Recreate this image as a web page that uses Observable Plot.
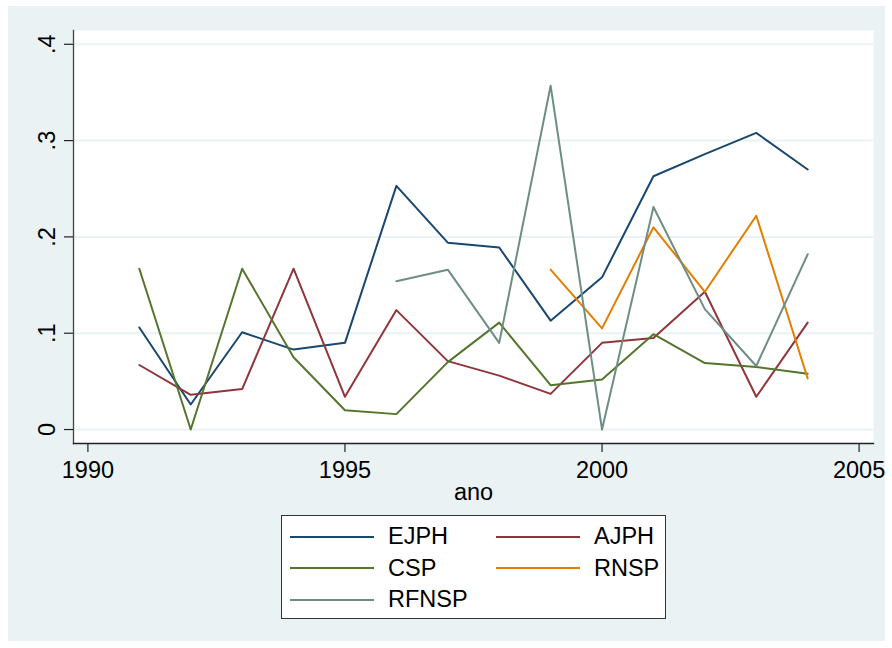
<!DOCTYPE html>
<html>
<head>
<meta charset="utf-8">
<script src="https://cdn.jsdelivr.net/npm/d3@7"></script>
<script src="https://cdn.jsdelivr.net/npm/@observablehq/plot@0.6"></script>
<style>
  body { margin: 0; background: #ffffff; font-family: "Liberation Sans", Arial, Helvetica, sans-serif; }
  #panel { position: absolute; left: 8px; top: 6px; width: 877px; height: 635px; background: #eaf2f3; }
  #chart { position: absolute; left: 0; top: 0; }
  #legend { position: absolute; left: 281px; top: 515px; width: 385px; height: 104px; background: #fff;
            border: 1px solid #333; box-sizing: border-box; padding: 5px 0 0 8px;
            display: grid; grid-template-columns: 206px 170px; grid-auto-rows: 31.5px; }
  .item { display: flex; align-items: center; font-size: 23.5px; color: #000; }
  .swatch { width: 84px; height: 2px; margin-right: 14px; }
</style>
</head>
<body>
<div id="panel"></div>
<div id="chart"></div>
<div id="legend"></div>
<script>
const years = [1991, 1992, 1993, 1994, 1995, 1996, 1997, 1998, 1999, 2000, 2001, 2002, 2003, 2004];
const EJPH  = [0.106, 0.026, 0.101, 0.083, 0.090, 0.253, 0.194, 0.189, 0.113, 0.158, 0.263, 0.286, 0.308, 0.270];
const AJPH  = [0.067, 0.036, 0.042, 0.167, 0.034, 0.124, 0.071, 0.056, 0.037, 0.090, 0.095, 0.143, 0.034, 0.111];
const CSP   = [0.167, 0.000, 0.167, 0.075, 0.020, 0.016, 0.070, 0.111, 0.046, 0.052, 0.099, 0.069, 0.065, 0.058];
const RNSP  = [null, null, null, null, null, null, null, null, 0.166, 0.105, 0.210, 0.143, 0.222, 0.053];
const RFNSP = [null, null, null, null, null, 0.154, 0.166, 0.090, 0.357, 0.000, 0.231, 0.125, 0.066, 0.182];

const seriesNames = ["EJPH", "AJPH", "CSP", "RNSP", "RFNSP"];
const seriesColors = ["#1a476f", "#90353b", "#55752f", "#e37e00", "#6e8e84"];
const seriesValues = [EJPH, AJPH, CSP, RNSP, RFNSP];

const yTicks = [0, 0.1, 0.2, 0.3, 0.4];
const yTickLabels = ["0", ".1", ".2", ".3", ".4"];
const xTicks = [1990, 1995, 2000, 2005];
const xTitle = "ano";

const rows = [];
seriesNames.forEach((name, si) => {
  seriesValues[si].forEach((v, i) => {
    if (v !== null) rows.push({year: years[i], value: v, series: name});
  });
});

const yLabelRows = yTicks.map((t, i) => ({t, label: yTickLabels[i]}));
const FS = 23.5;

const chart = Plot.plot({
  width: 892,
  height: 505,
  marginLeft: 73,
  marginRight: 19,
  marginTop: 30,
  marginBottom: 62,
  style: {background: "transparent", fontFamily: "'Liberation Sans', Arial, Helvetica, sans-serif", color: "#222", overflow: "visible"},
  x: {domain: [1989.72, 2005.28]},
  y: {domain: [-0.0145, 0.4143]},
  color: {domain: seriesNames, range: seriesColors},
  marks: [
    Plot.frame({fill: "white", stroke: null}),
    Plot.ruleY(yTicks, {stroke: "#eaf2f3", strokeWidth: 2}),
    Plot.line(rows, {x: "year", y: "value", z: "series", stroke: "series", strokeWidth: 2}),
    Plot.frame({anchor: "left", stroke: "#444", strokeWidth: 1.3}),
    Plot.frame({anchor: "bottom", stroke: "#222", strokeWidth: 1.3}),
    Plot.axisY({ticks: yTicks, tickSize: 9, tickFormat: () => "", label: null, strokeWidth: 1.2}),
    Plot.text(yLabelRows, {y: "t", text: "label", frameAnchor: "left", rotate: -90, dx: -26,
      textAnchor: "middle", lineAnchor: "middle", fontSize: FS, fill: "#000"}),
    Plot.axisX({ticks: xTicks, tickSize: 9, tickPadding: 9, tickFormat: d => String(d), label: null, fontSize: FS, fill: "#000", strokeWidth: 1.2}),
    Plot.text([xTitle], {frameAnchor: "bottom", dy: 49, fontSize: FS, lineAnchor: "middle", fill: "#000"})
  ]
});
document.getElementById("chart").appendChild(chart);

const legend = document.getElementById("legend");
seriesNames.forEach((name, i) => {
  const item = document.createElement("div");
  item.className = "item";
  const sw = document.createElement("span");
  sw.className = "swatch";
  sw.style.background = seriesColors[i];
  const tx = document.createElement("span");
  tx.textContent = name;
  item.appendChild(sw);
  item.appendChild(tx);
  legend.appendChild(item);
});
</script>
</body>
</html>
